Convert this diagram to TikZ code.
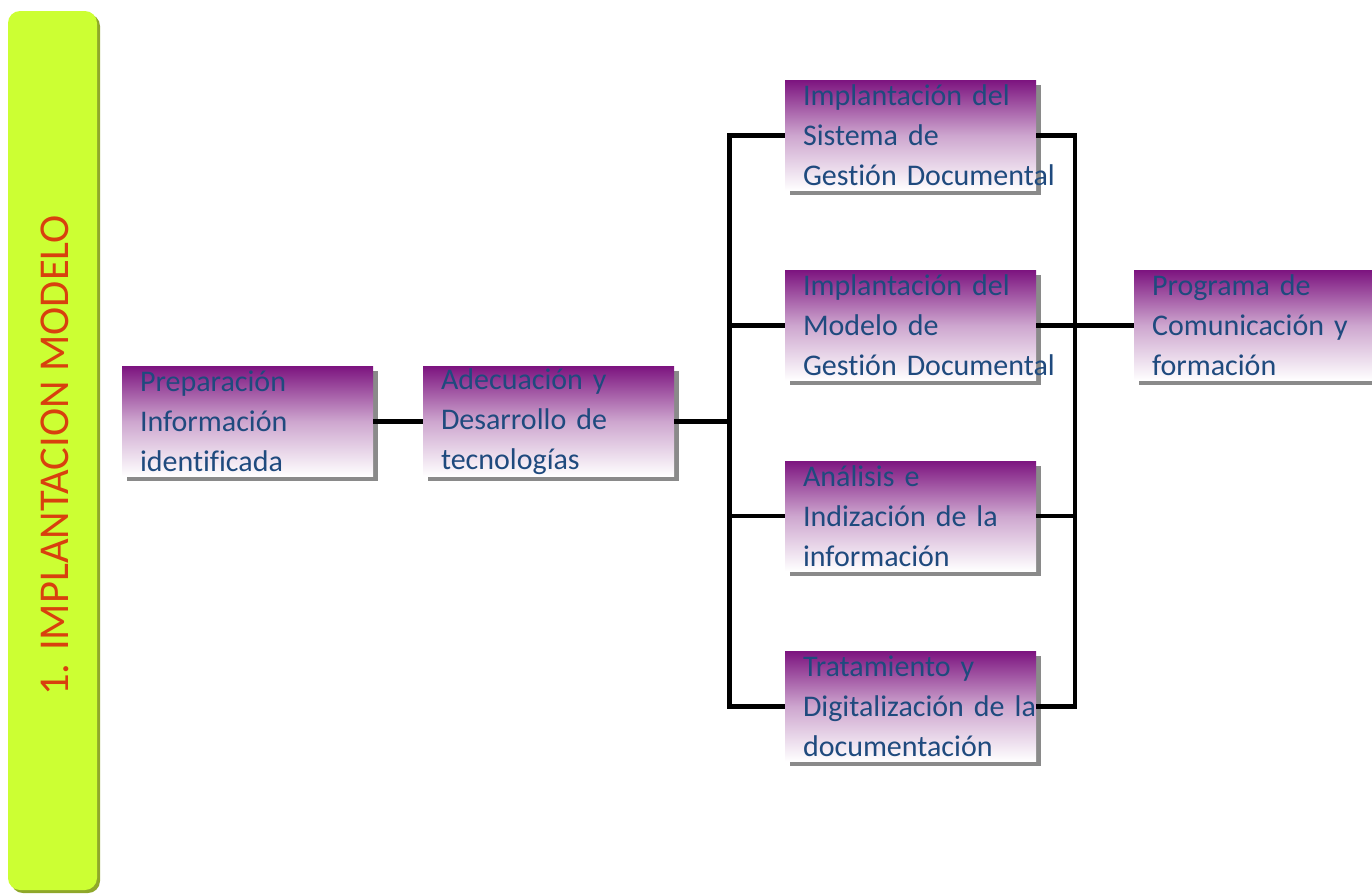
\documentclass[tikz,border=0pt]{standalone}
\usepackage{fontspec}
\setmainfont{Carlito}[Ligatures=CommonOff]
\definecolor{barfill}{HTML}{CCFF33}
\definecolor{barshade}{HTML}{8FA82A}
\definecolor{titlered}{HTML}{D8400E}
\definecolor{boxtop}{HTML}{7D1580}
\definecolor{boxtext}{HTML}{1F4A7E}
\definecolor{boxshade}{HTML}{8A8A8A}
\tikzset{
  boxbase/.style={rectangle, text width=215pt, inner xsep=18pt, inner ysep=0pt,
    minimum height=110pt, align=left, font=\fontsize{30}{40}\selectfont},
  stagebox/.style={boxbase, top color=boxtop, bottom color=white,
    middle color=boxtop!38!white, text=boxtext},
  stageshadow/.style={boxbase, fill=boxshade, xshift=4.5pt, yshift=-4.5pt},
  link/.style={draw=black, line width=4.5pt},
  titletext/.style={rotate=90, text=titlered, font=\fontsize{42.5}{48}\selectfont}
}
% a shaded stage box with its drop shadow; three unbroken lines of text
\newcommand\stage[5]{%
  \node[stageshadow] (#1-shadow) at (#2) {\mbox{\phantom{#3}}\\\mbox{\phantom{#4}}\\\mbox{\phantom{#5}}};
  \node[stagebox] (#1) at (#2) {\mbox{#3}\\\mbox{#4}\\\mbox{#5}};
}
\hbadness=10000 \hfuzz=200pt
\begin{document}
\begin{tikzpicture}[x=1pt, y=-1pt]
  \useasboundingbox (0,0) rectangle (1372,894);
  \clip (0,0) rectangle (1372,894);

  % side bar with the phase title
  \fill[barshade, rounded corners=12pt] (11,14) rectangle (100,893);
  \fill[barfill, rounded corners=12pt] (8,11) rectangle (97,890);
  \node[titletext] (title) at (55,455.5) {1. IMPLANTACION MODELO};

  % stages
  \stage{prep}{247.5,421.5}{Preparación}{Información}{identificada}
  \stage{adec}{548.5,421.5}{Adecuación y}{Desarrollo de}{tecnologías}
  \stage{sist}{910.5,135.5}{Implantación del}{Sistema de}{Gestión Documental}
  \stage{mode}{910.5,325.5}{Implantación del}{Modelo de}{Gestión Documental}
  \stage{anal}{910.5,516}{Análisis e}{Indización de la}{información}
  \stage{trat}{910.5,706.5}{Tratamiento y}{Digitalización de la}{documentación}
  \stage{prog}{1259.5,325.5}{Programa de}{Comunicación y}{formación}

  % bus positions
  \coordinate (lbus) at (729.5,0);
  \coordinate (rbus) at (1075,0);

  % connectors
  \draw[link] (prep.east) -- (adec.west);
  \draw[link] (adec.east) -- (adec.east -| lbus);
  \draw[link] (sist.west) -- (sist.west -| lbus) -- (trat.west -| lbus) -- (trat.west);
  \draw[link] (mode.west) -- (mode.west -| lbus);
  \draw[link] (anal.west) -- (anal.west -| lbus);
  \draw[link] (sist.east) -- (sist.east -| rbus) -- (trat.east -| rbus) -- (trat.east);
  \draw[link] (mode.east) -- (prog.west);
  \draw[link] (anal.east) -- (anal.east -| rbus);
\end{tikzpicture}
\end{document}
